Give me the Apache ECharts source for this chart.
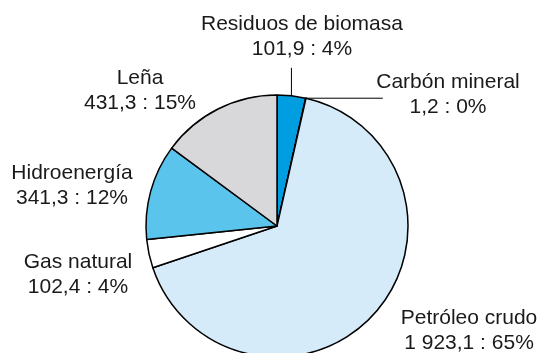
<!DOCTYPE html>
<html>
<head>
<meta charset="utf-8">
<script src="https://cdn.jsdelivr.net/npm/echarts@6/dist/echarts.min.js"></script>
<style>
  html, body { margin: 0; padding: 0; background: #fff; }
  #chart { width: 539px; height: 353px; }
</style>
</head>
<body>
<div id="chart"></div>
<script>
// Energy sources (production), clockwise from 12 o'clock
const sources = ['Residuos de biomasa', 'Carbón mineral', 'Petróleo crudo', 'Gas natural', 'Hidroenergía', 'Leña'];
const amounts = [101.9, 1.2, 1923.1, 102.4, 341.3, 431.3];
const shares = [4, 0, 65, 4, 12, 15];          // published percentages
const colors = ['#009ee0', '#6f6f6f', '#d6ebf9', '#ffffff', '#5bc4ed', '#d8d8da'];

// Label block centres (px) and which labels get a leader line
const labelAt = [
  { x: 302, y: 37, line: [0, -28] },
  { x: 448, y: 95, line: [77, 0] },
  { x: 469, y: 331 },
  { x: 78, y: 275 },
  { x: 72, y: 186 },
  { x: 140, y: 91 }
];

// "1 923,1" style numbers: space thousands separator, comma decimal
function fmt(v) {
  const parts = v.toFixed(1).split('.');
  const int = parts[0].replace(/\B(?=(\d{3})+(?!\d))/g, ' ');
  return int + ',' + parts[1];
}

const chart = echarts.init(document.getElementById('chart'), null, { renderer: 'canvas' });

chart.setOption({
  animation: false,
  backgroundColor: '#ffffff',
  series: [{
    type: 'pie',
    center: [277, 226],
    radius: 131,
    startAngle: 90,
    clockwise: true,
    avoidLabelOverlap: false,
    itemStyle: { borderColor: '#000000', borderWidth: 1.5 },
    label: {
      show: true,
      position: 'outside',
      color: '#1a1a1a',
      fontFamily: 'Liberation Sans, Arial, sans-serif',
      fontSize: 21,
      lineHeight: 25,
      align: 'center',
      formatter: function (p) {
        return p.name + '\n' + fmt(amounts[p.dataIndex]) + ' : ' + shares[p.dataIndex] + '%';
      }
    },
    labelLine: {
      show: true,
      lineStyle: { color: '#000000', width: 1 }
    },
    labelLayout: function (p) {
      const cfg = labelAt[p.dataIndex];
      const out = { x: cfg.x, y: cfg.y, align: 'center', verticalAlign: 'middle' };
      if (cfg.line && p.labelLinePoints) {
        const p0 = p.labelLinePoints[0];
        out.labelLinePoints = [[p0[0], p0[1]], [p0[0] + cfg.line[0], p0[1] + cfg.line[1]]];
      }
      return out;
    },
    data: sources.map(function (name, i) {
      const item = { name: name, value: amounts[i], itemStyle: { color: colors[i] } };
      if (!labelAt[i].line) item.labelLine = { show: false };
      return item;
    })
  }]
});
</script>
</body>
</html>
